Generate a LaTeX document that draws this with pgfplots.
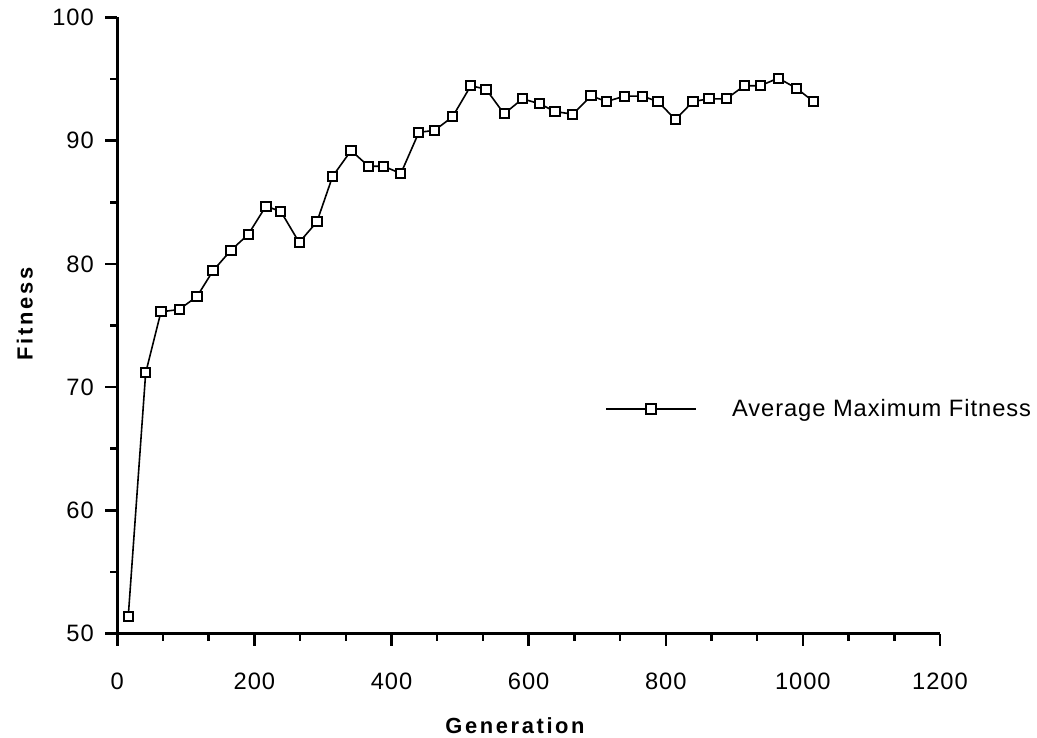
\documentclass[border=0pt]{standalone}
\usepackage{fontspec}
\setmainfont{Liberation Sans}[LetterSpace=4]
\newfontfamily\labfont{Liberation Sans}[LetterSpace=12]
\usepackage{pgfplots}
\pgfplotsset{compat=1.18}

\pgfplotstableread{
gen fit
16 51.4
41.4 71.16
63.7 76.11
90.2 76.3
116.2 77.35
139.6 79.44
165.8 81.11
191 82.39
216.8 84.69
238.6 84.25
265.3 81.74
291.2 83.42
314 87.1
341 89.2
366.4 87.93
388.3 87.93
413.6 87.34
439.8 90.67
463.1 90.85
489 91.94
515.6 94.46
537.9 94.18
564.2 92.18
591 93.40
615.7 93.0
638.5 92.37
664.3 92.15
691 93.64
713.8 93.18
740 93.62
765.8 93.62
788.6 93.18
814 91.72
839.7 93.18
863 93.40
888.3 93.40
914.6 94.46
937.9 94.46
964.1 95.08
990.4 94.26
1015.6 93.18
}\fitdata

\begin{document}
\begin{tikzpicture}
\begin{axis}[
  name=ax,
  scale only axis, width=822.7pt, height=616pt,
  xmin=0, xmax=1200, ymin=50, ymax=100,
  xtick={0,200,...,1200}, ytick={50,60,...,100},
  minor x tick num=2, minor y tick num=1,
  axis x line=bottom, axis y line=left,
  axis line style={-, line width=2.5pt},
  every tick/.style={black, line width=2.5pt},
  tick align=outside,
  major tick length=12pt, minor tick length=7pt,
  /pgf/number format/assume math mode=true,
  /pgf/number format/1000 sep={},
  ticklabel style={font=\fontsize{23.7}{28}\selectfont},
  xticklabel style={yshift=-24pt},
  yticklabel style={xshift=-8pt},
  xlabel={Generation}, ylabel={Fitness},
  label style={font=\labfont\bfseries\fontsize{21.9}{26}\selectfont},
  xlabel style={at={(axis description cs:0.4834,-0.162)}, anchor=base},
  ylabel style={at={(axis description cs:-0.1028,0.5187)}, anchor=base},
  legend style={at={(axis cs:711.4,68.22)}, anchor=west, draw=none, fill=none,
    inner sep=0pt, column sep=0pt,
    nodes={inner sep=0pt, font=\fontsize{23.7}{28}\selectfont}},
  legend image code/.code={
    \draw[mark repeat=2, mark phase=2, #1] plot coordinates {(0pt,0pt) (45pt,0pt) (90pt,0pt)};
    \path[draw=none] (90pt,0pt) -- (126pt,0pt);
  },
]
\addplot[black, line width=1.6pt, mark=square*,
  mark size=4.6pt, mark options={fill=white, line width=2pt, solid}]
  table[x=gen, y=fit] {\fitdata};
\addlegendentry{Average Maximum Fitness}
\end{axis}
\path (ax.south west) ++(-117.3pt,-103.5pt) rectangle ++(1037pt,737pt);
\end{tikzpicture}
\end{document}
